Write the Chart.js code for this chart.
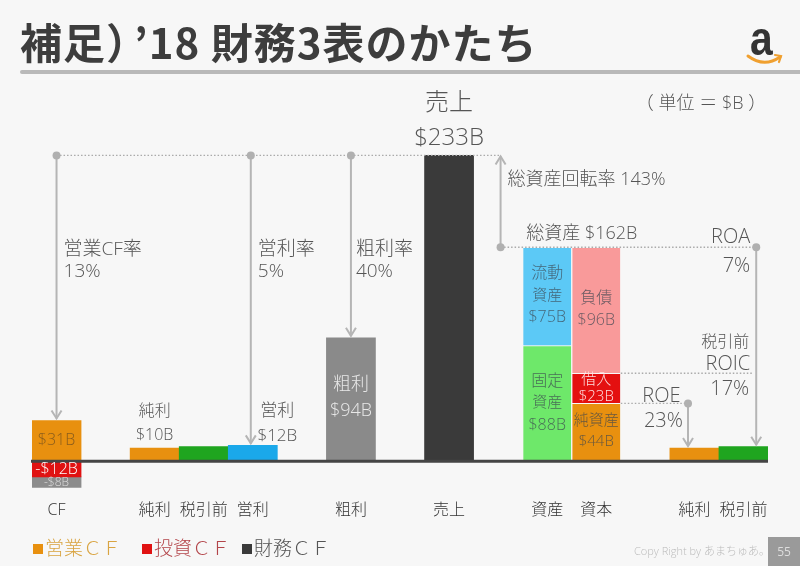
<!DOCTYPE html>
<html><head><meta charset="utf-8">
<script src="https://cdn.jsdelivr.net/npm/chart.js@4"></script>
<style>
html,body{margin:0;padding:0;background:#f7f7f7;width:800px;height:566px;overflow:hidden;}
#wrap{position:relative;width:800px;height:566px;}
canvas{position:absolute;left:0;top:0;}
.t{position:absolute;white-space:nowrap;}
.lg{position:absolute;top:535px;font:300 19px/24px "Noto Sans CJK JP",sans-serif;white-space:nowrap;}
.sq{display:inline-block;width:10px;height:10px;margin-right:2px;vertical-align:1px;}
</style></head><body><div id="wrap">
<canvas id="c" width="800" height="566"></canvas>
<div class="t" style="left:20px;top:18px;font:bold 42px/46px 'Noto Sans CJK JP',sans-serif;color:#3d3d3d;letter-spacing:1px;">補足）<span style="margin-left:6px">’18 財務3表のかたち</span></div>
<div style="position:absolute;left:20px;top:70px;width:780px;height:4px;background:#b9b9b9;border-radius:2px 0 0 2px;"></div>
<div class="t" style="left:750px;top:12px;font:bold 48px/54px 'Liberation Sans',Arial,sans-serif;color:#333;transform:scaleX(0.85);transform-origin:left top;">a</div>
<svg style="position:absolute;left:744px;top:50px;" width="44" height="20"><path d="M4 6 Q20 18 36 7" fill="none" stroke="#f0a030" stroke-width="3" stroke-linecap="round"/><path d="M31 5 L37 6 L35 12" fill="none" stroke="#f0a030" stroke-width="2.2" stroke-linecap="round"/></svg>
<div class="lg" style="left:33px;color:#d9a441;"><span class="sq" style="background:#e8900f"></span>営業ＣＦ</div>
<div class="lg" style="left:142px;color:#b3454a;"><span class="sq" style="background:#e01212"></span>投資ＣＦ</div>
<div class="lg" style="left:242px;color:#555;"><span class="sq" style="background:#3a3a3a"></span>財務ＣＦ</div>
<div class="t" style="left:634px;top:544px;font:300 11px/14px 'Open Sans','Noto Sans CJK JP',sans-serif;color:#bbb;">Copy Right by あまちゅあ。</div>
<div style="position:absolute;left:768px;top:537px;width:32px;height:29px;background:#9a9a9a;color:#ddd;font:12px/29px 'Open Sans',sans-serif;text-align:center;">55</div>
</div>
<script>
const categories = ['CF','','純利','税引前','営利','','粗利','','売上','','資産','資本','','純利','税引前'];
// bottom segment of each column ($B)
const baseValues   = [31, null, 10, 11, 12, null, 94, null, 233, null, 88, 44, null, 10, 11];
// middle segment (investing CF, current assets, borrowings)
const middleValues = [-12, null, null, null, null, null, null, null, null, null, 75, 23, null, null, null];
// top segment (financing CF, liabilities)
const topValues    = [-8, null, null, null, null, null, null, null, null, null, null, 96, null, null, null];

const baseColors   = ['#e8900f',null,'#e8900f','#1fa51f','#1aa8ea',null,'#8a8a8a',null,'#3a3a3a',null,'#6ee86a','#e8900f',null,'#e8900f','#1fa51f'];
const middleColors = ['#e01212',null,null,null,null,null,null,null,null,null,'#5cc9f6','#e41010',null,null,null];
const topColors    = ['#8c8c8c',null,null,null,null,null,null,null,null,null,null,'#f99a9a',null,null,null];

const FF = '"Open Sans","Noto Sans CJK JP",sans-serif';
const bw = ctx => (ctx.dataIndex===10||ctx.dataIndex===11) ? {left:1,right:1,top:1,bottom:0} : 0;

const annot = {
  id:'annot',
  afterDatasetsDraw(chart){
    const c = chart.ctx, xs = chart.scales.x, ys = chart.scales.y;
    const X = i => xs.getPixelForValue(i);
    const Y = v => ys.getPixelForValue(v);
    const cw = X(1)-X(0);
    const G = '#b5b5b5';
    c.save();
    // zero line
    c.strokeStyle='#454545'; c.lineWidth=3;
    c.beginPath(); c.moveTo(chart.chartArea.left-1,Y(0)); c.lineTo(chart.chartArea.right,Y(0)); c.stroke();

    function dotted(x1,y1,x2,y2){
      c.save(); c.strokeStyle='#aaa'; c.lineWidth=1.3; c.setLineDash([1.5,2]);
      c.beginPath(); c.moveTo(x1,y1); c.lineTo(x2,y2); c.stroke(); c.restore();
    }
    function dot(x,y){ c.fillStyle='#b0b0b0'; c.beginPath(); c.arc(x,y,4,0,Math.PI*2); c.fill(); }
    function arrow(x,y1,y2){
      c.save(); c.strokeStyle=G; c.lineWidth=2;
      c.beginPath(); c.moveTo(x,y1); c.lineTo(x,y2); c.stroke();
      const d = y2>y1 ? -1 : 1;
      c.beginPath(); c.moveTo(x-5,y2+d*8); c.lineTo(x,y2); c.lineTo(x+5,y2+d*8); c.stroke();
      c.restore();
    }
    function txt(s,x,y,size,color,align){
      c.font = '300 '+size+'px '+FF; c.fillStyle=color||'#555';
      c.textAlign=align||'center'; c.textBaseline='middle'; c.fillText(s,x,y);
    }
    const topY = Y(233);
    const xTurn = X(8)+cw*1.05;
    const xOp = X(4)-2;
    dotted(X(0),topY,xTurn,topY);
    arrow(X(0),topY,Y(31)-2);
    arrow(xOp,topY,Y(12)-2);
    arrow(X(6),topY,Y(94)-2);
    dot(X(0),topY); dot(xOp,topY); dot(X(6),topY);

    const yA = Y(163);
    const xROA = X(14)+cw*0.26;
    dotted(xTurn,yA,xROA,yA);
    arrow(xTurn,yA,topY+1);
    arrow(xROA,yA,Y(11)-2);
    dot(xTurn,yA); dot(xROA,yA);

    const capR = X(11)+cw/2;
    dotted(capR,Y(67),xROA-3,Y(67));
    const xROE = X(13)-cw*0.13;
    dotted(capR,Y(44),xROE,Y(44));
    arrow(xROE,Y(44),Y(10)-2);
    dot(xROE,Y(44));

    // ratio labels
    txt('営業CF率',X(0)+7,250,19,'#555','left'); txt('13%',X(0)+7,272,19,'#555','left');
    txt('営利率',xOp+7,250,19,'#555','left'); txt('5%',xOp+7,272,19,'#555','left');
    txt('粗利率',X(6)+5,250,19,'#555','left'); txt('40%',X(6)+5,272,19,'#555','left');
    txt('売上',X(8),103,24,'#555'); txt('$233B',X(8),138,24,'#555');
    txt('（ 単位 ＝ $B ）',701,104,18,'#555');
    txt('総資産回転率 143%',xTurn+7,180,18,'#555','left');
    txt('総資産 $162B',(X(10)+X(11))/2+10,234,18,'#555');
    txt('ROA',xROA-6,237,20,'#555','right'); txt('7%',xROA-6,266,20,'#555','right');
    txt('税引前',xROA-7,342,16,'#555','right'); txt('ROIC',xROA-6,364,20,'#555','right'); txt('17%',xROA-7,389,20,'#555','right');
    txt('ROE',X(13)-33,396,20,'#555'); txt('23%',X(13)-31,421,20,'#555');
    txt('純利',X(2),411,16,'#555'); txt('$10B',X(2),435,16,'#555');
    txt('営利',X(4)+cw/2,411,17,'#555'); txt('$12B',X(4)+cw/2,436,17,'#555');
    // in-bar labels
    txt('$31B',X(0),Y(15.5),16,'#8a5d1c');
    txt('-$12B',X(0),Y(-6),16,'#fff');
    txt('-$8B',X(0),Y(-16),12,'#ddd');
    txt('粗利',X(6),385,18,'#e8e8e8'); txt('$94B',X(6),411,18,'#e8e8e8');
    const ac = 'rgba(60,70,80,0.75)';
    txt('流動',X(10),273,16,ac); txt('資産',X(10),296,15,ac); txt('$75B',X(10),317,16,ac);
    txt('固定',X(10),381,16,ac); txt('資産',X(10),403,15,ac); txt('$88B',X(10),425,16,ac);
    txt('負債',X(11),298,16,ac); txt('$96B',X(11),320,16,ac);
    txt('借入',X(11),380,15,'#fde0e0'); txt('$23B',X(11),397,15,'#fde0e0');
    txt('純資産',X(11),421,15,ac); txt('$44B',X(11),442,15,ac);
    c.restore();
  }
};

new Chart(document.getElementById('c'), {
  type:'bar',
  data:{
    labels:categories,
    datasets:[
      {data:baseValues, backgroundColor:baseColors, borderColor:'#f7f7f7', borderWidth:bw, borderSkipped:false},
      {data:middleValues, backgroundColor:middleColors, borderColor:'#f7f7f7', borderWidth:bw, borderSkipped:false},
      {data:topValues, backgroundColor:topColors, borderColor:'#f7f7f7', borderWidth:bw, borderSkipped:false}
    ]
  },
  options:{
    responsive:false, animation:false, events:[],
    layout:{padding:{left:32,right:32,top:120,bottom:48}},
    datasets:{bar:{barPercentage:1, categoryPercentage:1}},
    plugins:{legend:{display:false}, tooltip:{enabled:false}},
    scales:{
      x:{stacked:true, grid:{display:false, drawTicks:false}, border:{display:false},
         ticks:{font:{size:16, family:FF, weight:300}, color:'#333', padding:11, autoSkip:false, maxRotation:0, minRotation:0},
         afterFit(s){ s.height = 28; }},
      y:{stacked:true, display:false, min:-22, max:260}
    }
  },
  plugins:[annot]
});
</script>
</body></html>
